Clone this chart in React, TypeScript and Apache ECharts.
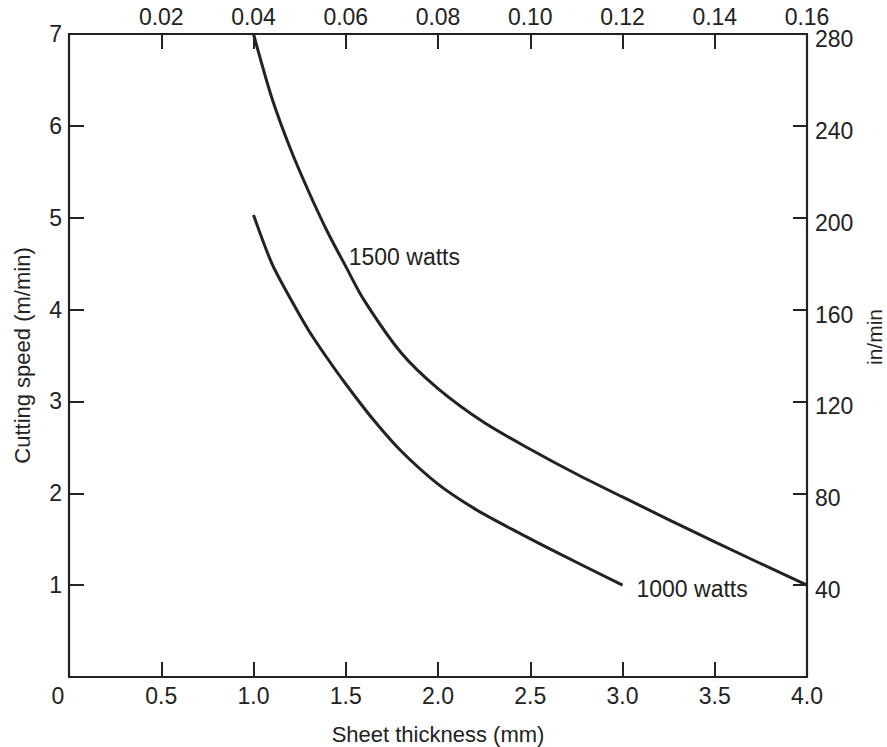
import React, { useEffect, useRef } from "react";
import * as echarts from "echarts";

const thickness1500 = [1.0, 1.1, 1.2, 1.3, 1.4, 1.5, 1.6, 1.8, 2.0, 2.25, 2.5, 2.75, 3.0, 3.5, 4.0];
const speed1500 = [7.0, 6.3, 5.75, 5.28, 4.85, 4.47, 4.1, 3.53, 3.14, 2.77, 2.48, 2.21, 1.96, 1.47, 1.0];
const thickness1000 = [1.0, 1.1, 1.2, 1.3, 1.4, 1.5, 1.65, 1.8, 2.0, 2.2, 2.4, 2.66, 3.0];
const speed1000 = [5.03, 4.5, 4.12, 3.77, 3.47, 3.19, 2.8, 2.46, 2.1, 1.83, 1.61, 1.34, 1.0];
const seriesNames = ["1500 watts", "1000 watts"];
const labelIndex1500 = 5;

const FONT = "'Liberation Sans', Arial, sans-serif";
const INK = "#222";

export default function App() {
  const ref = useRef<HTMLDivElement>(null);
  useEffect(() => {
    if (!ref.current) return;
    const chart = echarts.init(ref.current, undefined, { renderer: "svg" });
    const d1500 = thickness1500.map((x, i) => [x, speed1500[i]]);
    const d1000 = thickness1000.map((x, i) => [x, speed1000[i]]);
    const axisLine = { show: true, onZero: false, lineStyle: { color: INK, width: 2.2 } };
    const lbl = { color: INK, fontSize: 23, fontFamily: FONT };
    const tick = (len: number) => ({
      show: true,
      inside: true,
      length: len,
      lineStyle: { color: INK, width: 2 },
    });
    chart.setOption({
      animation: false,
      backgroundColor: "#ffffff",
      grid: {
        left: 69,
        right: 80,
        top: 34,
        bottom: 70,
        containLabel: false,
        outerBoundsMode: "none",
      },
      xAxis: [
        {
          type: "value",
          position: "bottom",
          min: 0,
          max: 4,
          interval: 0.5,
          axisLine,
          splitLine: { show: false },
          axisTick: tick(15),
          axisLabel: {
            ...lbl,
            margin: 7,
            formatter: (v: number) => (v === 0 ? "{o|0}" : v.toFixed(1)),
            rich: { o: { ...lbl, padding: [0, 22, 0, 0] } },
          },
          name: "Sheet thickness (mm)",
          nameLocation: "middle",
          nameGap: 46,
          nameTextStyle: { color: INK, fontSize: 22, fontFamily: FONT },
        },
        {
          type: "value",
          position: "top",
          min: 0,
          max: 0.16,
          interval: 0.02,
          axisLine,
          splitLine: { show: false },
          axisTick: tick(15),
          axisLabel: {
            ...lbl,
            margin: 6,
            formatter: (v: number) => (v === 0 ? "" : v.toFixed(2)),
          },
        },
      ],
      yAxis: [
        {
          type: "value",
          position: "left",
          min: 0,
          max: 7,
          interval: 1,
          axisLine,
          splitLine: { show: false },
          axisTick: tick(15),
          axisLabel: {
            ...lbl,
            margin: 7,
            formatter: (v: number) => (v === 0 ? "" : String(v)),
          },
          name: "Cutting speed (m/min)",
          nameLocation: "middle",
          nameRotate: 90,
          nameGap: 36,
          nameTextStyle: { color: INK, fontSize: 22, fontFamily: FONT },
        },
        {
          type: "value",
          position: "right",
          min: 0,
          max: 280,
          interval: 40,
          axisLine,
          splitLine: { show: false },
          axisTick: tick(14),
          axisLabel: {
            ...lbl,
            margin: 8,
            formatter: (v: number) => (v === 0 ? "" : "{r|" + v + "}"),
            rich: { r: { ...lbl, padding: [10, 0, 0, 0] } },
          },
        },
      ],
      graphic: [
        {
          type: "text",
          x: 874,
          y: 337,
          rotation: Math.PI / 2,
          style: {
            text: "in/min",
            fill: INK,
            fontSize: 21,
            fontFamily: FONT,
            align: "center",
            verticalAlign: "middle",
          },
        },
      ],
      series: [
        {
          name: seriesNames[0],
          type: "line",
          xAxisIndex: 0,
          yAxisIndex: 0,
          data: d1500,
          smooth: 0.3,
          showSymbol: false,
          symbol: "none",
          lineStyle: { color: INK, width: 3 },
          markPoint: {
            symbol: "circle",
            symbolSize: 0,
            data: [
              {
                coord: d1500[labelIndex1500],
                label: {
                  show: true,
                  formatter: seriesNames[0],
                  position: "right",
                  distance: 3,
                  offset: [0, -9],
                  color: INK,
                  fontSize: 23,
                  fontFamily: FONT,
                },
              },
            ],
          },
        },
        {
          name: seriesNames[1],
          type: "line",
          xAxisIndex: 0,
          yAxisIndex: 0,
          data: d1000,
          smooth: 0.3,
          showSymbol: false,
          symbol: "none",
          lineStyle: { color: INK, width: 3 },
          endLabel: {
            show: true,
            formatter: seriesNames[1],
            distance: 14,
            offset: [0, 4],
            color: INK,
            fontSize: 23,
            fontFamily: FONT,
          },
        },
      ],
    });
    return () => chart.dispose();
  }, []);
  return (
    <div
      ref={ref}
      style={{ position: "fixed", left: 0, top: 0, width: 887, height: 747 }}
    />
  );
}
